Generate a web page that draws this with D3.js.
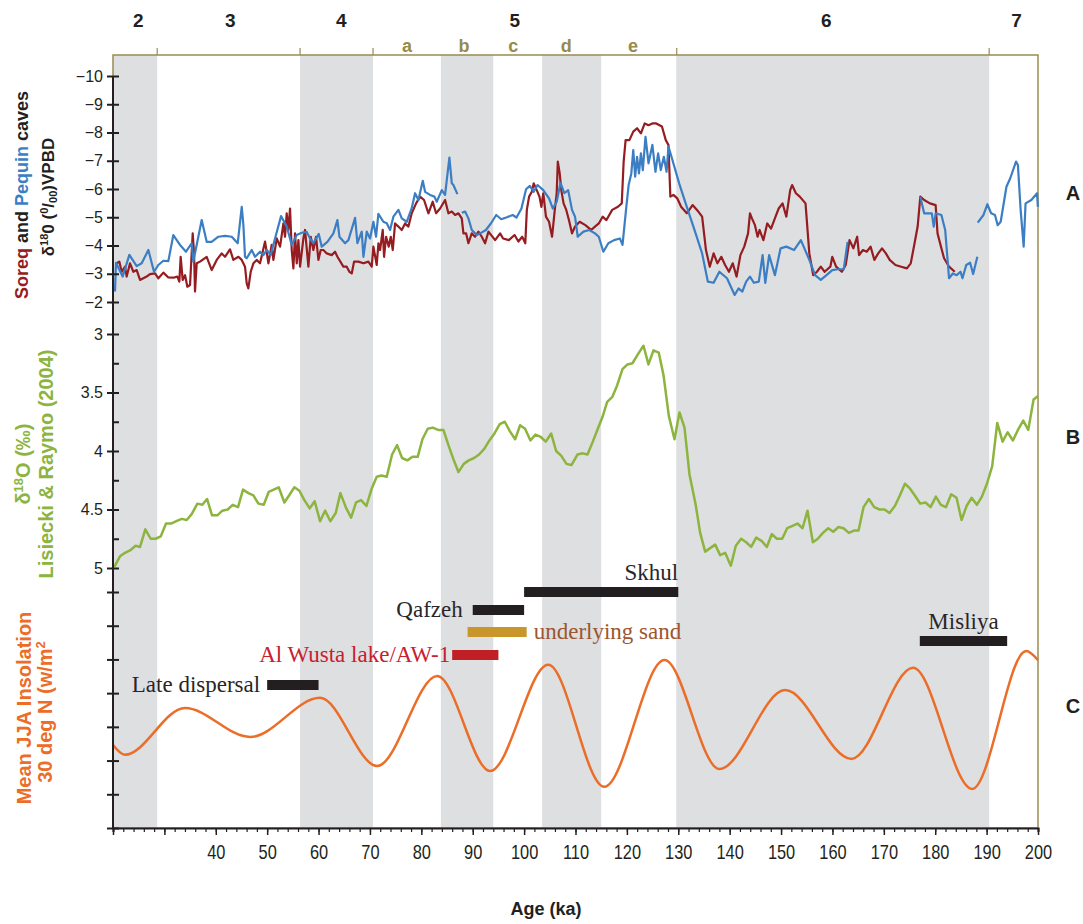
<!DOCTYPE html>
<html>
<head>
<meta charset="utf-8">
<script src="https://cdn.jsdelivr.net/npm/d3@7"></script>
<style>
  body { margin: 0; background: #fff; }
  svg { display: block; }
</style>
</head>
<body>
<div id="chart"></div>
<script>
// ---- data ----
var misNames = ["2", "3", "4", "5", "6", "7"];
var misCentres = [24.9, 42.8, 64.4, 98.2, 158.8, 195.8];
var subNames = ["a", "b", "c", "d", "e"];
var subCentres = [77.2, 88.3, 97.9, 108.2, 121.2];
var misBounds = [28.6, 56.4, 70.6, 129.7, 190.5];
var greyBands = [[20, 28.6], [56.4, 70.6], [83.8, 94], [103.5, 115], [129.6, 190.5]];

// Soreq cave d18O (age ka, permil)
var soreq = [[20.71,-3.37],[21.23,-3.43],[21.69,-3.07],[22.34,-3.25],[22.66,-2.9],[23.31,-3.37],[23.96,-3.07],[24.61,-3.13],[25.26,-2.78],[25.9,-2.84],[26.55,-2.9],[27.2,-2.99],[28.18,-3.01],[28.83,-2.84],[29.8,-3.04],[30.77,-2.87],[31.74,-2.86],[32.52,-2.9],[32.91,-2.72],[33.17,-3.6],[33.56,-2.78],[34.02,-2.95],[34.47,-2.54],[34.99,-2.6],[35.51,-4.43],[35.77,-3.72],[35.96,-2.37],[36.29,-3.37],[36.93,-3.43],[38.23,-3.6],[39.21,-3.13],[40.18,-3.49],[41.15,-3.72],[41.8,-3.6],[42.77,-3.86],[43.42,-3.49],[44.4,-3.6],[45.05,-3.49],[45.69,-3.25],[46.02,-2.66],[46.34,-2.48],[46.8,-3.07],[47.32,-3.37],[47.97,-3.49],[48.61,-3.37],[49.59,-4.14],[50.24,-3.37],[50.88,-4.02],[51.21,-3.49],[51.86,-4.25],[52.51,-3.96],[53.16,-4.78],[53.48,-4.31],[53.8,-5.14],[54.13,-4.55],[54.45,-5.31],[54.78,-3.84],[55.1,-3.19],[55.43,-4.43],[55.75,-3.37],[56.08,-4.19],[56.4,-3.25],[57.05,-4.25],[57.37,-4.55],[58.02,-3.25],[58.48,-4.31],[58.99,-3.84],[59.51,-4.31],[59.97,-3.49],[60.42,-3.84],[60.94,-3.84],[61.59,-3.72],[62.56,-3.66],[63.21,-3.78],[63.67,-3.6],[64.83,-3.25],[65.48,-3.25],[66.0,-3.07],[66.46,-3.01],[66.91,-3.43],[67.75,-3.43],[68.73,-3.37],[69.7,-3.43],[70.35,-3.25],[70.67,-3.96],[71.32,-3.31],[71.65,-4.08],[71.97,-3.84],[72.49,-4.55],[72.75,-3.6],[73.14,-4.31],[73.66,-3.96],[74.05,-4.31],[74.44,-3.84],[74.89,-4.78],[75.54,-4.67],[76.19,-4.55],[76.84,-4.78],[77.49,-4.67],[78.13,-5.14],[78.98,-5.49],[79.76,-5.73],[80.53,-5.61],[81.38,-5.14],[82.22,-5.55],[82.87,-5.14],[83.65,-5.31],[84.62,-5.61],[85.27,-5.14],[85.92,-5.2],[86.57,-5.08],[87.22,-5.14],[87.87,-4.96],[88.19,-4.43],[88.71,-4.43],[89.16,-4.08],[89.81,-4.43],[90.46,-4.31],[91.11,-4.49],[91.76,-4.31],[92.41,-4.08],[93.06,-4.49],[94.36,-4.19],[95.33,-4.43],[95.91,-4.25],[97.03,-4.19],[98.14,-4.37],[98.89,-4.14],[99.63,-4.31],[100.23,-4.08],[100.53,-5.26],[100.97,-5.73],[101.5,-5.9],[101.87,-6.2],[102.46,-5.96],[102.99,-5.73],[103.36,-5.37],[103.73,-5.85],[104.25,-5.02],[104.85,-4.84],[105.44,-4.31],[105.97,-5.26],[106.34,-5.85],[106.56,-6.97],[106.93,-6.55],[107.23,-5.96],[107.68,-5.49],[108.2,-5.26],[108.72,-4.9],[109.32,-4.43],[109.91,-4.67],[110.81,-4.84],[111.92,-4.72],[113.04,-4.55],[113.79,-4.67],[114.53,-4.78],[115.28,-5.02],[116.02,-4.9],[117.14,-5.26],[118.26,-5.37],[119.0,-5.49],[119.37,-6.97],[119.75,-7.73],[120.49,-7.73],[121.24,-8.03],[121.98,-8.15],[122.73,-7.97],[123.47,-8.32],[124.21,-8.26],[124.96,-8.32],[125.7,-8.32],[126.82,-8.21],[127.57,-7.73],[128.09,-7.56],[128.46,-5.73],[129.06,-5.79],[129.8,-5.67],[130.55,-5.37],[131.66,-5.14],[132.78,-5.43],[133.9,-5.2],[134.64,-5.02],[135.39,-3.84],[136.13,-3.25],[136.88,-3.72],[137.62,-3.37],[138.37,-3.6],[139.11,-3.31],[139.86,-3.07],[140.6,-3.37],[141.35,-2.9],[142.09,-3.66],[142.84,-3.96],[143.58,-4.43],[143.95,-5.14],[144.33,-4.96],[144.92,-4.72],[145.44,-4.31],[145.82,-4.55],[146.56,-4.19],[147.31,-4.78],[148.05,-4.6],[148.8,-4.96],[149.54,-5.31],[150.29,-5.49],[151.03,-5.02],[151.78,-5.96],[152.15,-6.14],[152.89,-5.85],[153.64,-5.73],[154.76,-5.49],[155.5,-3.72],[156.25,-2.95],[156.99,-3.07],[157.73,-3.25],[158.48,-3.07],[159.6,-3.25],[159.97,-3.6],[160.71,-3.25],[161.83,-3.07],[162.58,-3.31],[163.32,-4.19],[164.07,-3.9],[164.81,-4.31],[165.18,-3.66],[165.93,-3.84],[166.67,-3.78],[167.42,-3.96],[168.16,-3.49],[168.91,-3.72],[169.65,-3.9],[170.4,-3.72],[171.14,-3.49],[172.26,-3.31],[173.38,-3.25],[174.49,-3.19],[175.24,-3.37],[175.98,-4.08],[176.58,-4.67],[177.1,-5.73],[177.85,-5.61],[178.96,-5.49],[180.08,-5.43],[180.45,-4.43],[181.2,-3.9],[181.72,-3.55],[182.69,-3.25],[183.8,-3.07]];

// Pequin cave d18O (null = gap in record)
var pequin = [[20.39,-2.37],[20.58,-3.39],[21.88,-2.9],[23.18,-3.67],[24.61,-3.27],[25.58,-3.37],[26.88,-3.84],[27.98,-3.07],[28.82,-3.31],[29.79,-3.46],[30.77,-3.45],[31.74,-4.37],[33.04,-4.02],[34.21,-3.78],[35.31,-4.08],[35.63,-3.43],[37.26,-4.9],[38.23,-4.13],[39.2,-4.13],[40.5,-4.31],[41.8,-4.34],[43.1,-4.31],[44.27,-4.08],[45.05,-5.37],[45.37,-4.73],[45.69,-3.6],[46.02,-3.55],[46.99,-3.84],[47.64,-3.6],[48.61,-3.78],[49.26,-3.66],[49.91,-3.84],[50.69,-3.66],[51.53,-4.25],[52.7,-5.04],[53.81,-4.67],[54.78,-4.02],[55.75,-4.37],[56.73,-4.45],[57.7,-4.48],[58.35,-4.25],[58.99,-4.08],[60.04,-4.41],[60.62,-3.96],[61.72,-4.13],[62.89,-4.43],[63.67,-4.9],[64.06,-4.31],[65.16,-4.08],[65.81,-4.19],[67.11,-4.98],[67.56,-4.08],[68.4,-4.49],[68.73,-3.6],[69.38,-4.49],[70.02,-4.25],[70.67,-4.84],[71.19,-4.31],[71.64,-5.12],[72.61,-4.84],[73.27,-4.79],[73.92,-4.55],[74.56,-5.02],[75.54,-5.26],[76.19,-4.96],[77.16,-4.84],[78.13,-5.32],[78.78,-5.85],[79.43,-5.61],[80.28,-6.29],[80.73,-5.9],[81.7,-5.79],[82.55,-5.73],[83.0,-5.55],[83.98,-5.96],[84.62,-5.79],[85.46,-7.11],[85.93,-6.2],[86.24,-6.14],[87.02,-5.82],null,[87.87,-5.16],[88.52,-5.2],[89.16,-4.96],[89.82,-4.55],[90.79,-4.37],[91.44,-4.43],[92.56,-4.55],[93.53,-4.78],[94.57,-5.08],[95.54,-4.93],[96.65,-5.0],[97.77,-5.08],[98.52,-4.99],[99.48,-5.31],[100.38,-5.99],[101.12,-6.11],[101.87,-5.9],[102.61,-6.14],[103.73,-5.96],[104.85,-5.67],[105.59,-5.31],[106.34,-5.55],[107.08,-6.22],[107.83,-5.85],[108.57,-5.96],[109.32,-5.26],[109.91,-5.02],[110.43,-4.31],[111.55,-4.49],[112.67,-4.55],[113.79,-4.43],[114.53,-4.31],[115.42,-3.78],[116.39,-4.08],[117.51,-4.19],[118.63,-4.25],[119.15,-4.02],[119.89,-5.37],[120.34,-6.14],[120.86,-6.55],[121.24,-7.38],[121.61,-6.44],[121.98,-7.14],[122.35,-6.55],[122.73,-7.26],[123.1,-6.67],[123.62,-7.85],[124.21,-6.91],[124.96,-7.56],[125.56,-6.61],[126.08,-7.26],[126.6,-6.67],[127.19,-7.14],[127.72,-6.61],[128.09,-7.5],[128.68,-7.14],[130.17,-6.2],[131.66,-5.37],[133.15,-4.55],[134.64,-3.72],[135.76,-2.72],[136.88,-2.68],[137.99,-3.07],[139.48,-2.84],[140.97,-2.25],[141.72,-2.48],[142.46,-2.37],[143.21,-2.72],[143.95,-2.9],[144.7,-2.68],[145.67,-2.72],[146.41,-3.66],[146.93,-2.68],[147.68,-3.66],[148.8,-2.95],[149.91,-3.9],[151.03,-3.96],[152.52,-3.84],[153.86,-4.19],[155.5,-3.49],[156.62,-2.95],[157.73,-2.78],[158.85,-2.95],[159.97,-3.13],[161.09,-3.16],[162.2,-3.16],[162.95,-4.13],null,[177.1,-5.73],[177.85,-5.14],[179.34,-5.14],[179.71,-4.67],[180.08,-5.14],[181.2,-5.08],[181.94,-4.55],[182.69,-2.84],[183.43,-3.01],[184.18,-2.95],[184.92,-3.07],[185.3,-2.84],[186.04,-3.31],[186.79,-3.39],[187.38,-2.99],[188.2,-3.6],null,[188.27,-4.81],[189.39,-5.08],[190.14,-5.46],[190.88,-5.14],[191.63,-5.08],[192.15,-4.72],[192.74,-4.84],[193.86,-6.08],[194.6,-6.38],[195.72,-6.97],[196.09,-6.85],[196.62,-5.26],[197.21,-3.96],[197.58,-5.49],[198.7,-5.61],[199.82,-5.85],[199.97,-5.37]];

// LR04 benthic stack d18O
var lr04 = [[20.26,4.99],[21.36,4.9],[22.34,4.87],[23.31,4.85],[24.41,4.81],[25.26,4.82],[26.29,4.67],[27.33,4.75],[28.31,4.75],[29.28,4.73],[30.32,4.62],[31.29,4.62],[32.33,4.6],[33.37,4.58],[34.34,4.59],[35.31,4.54],[36.42,4.45],[37.39,4.46],[38.3,4.41],[39.27,4.55],[40.31,4.55],[41.28,4.51],[42.32,4.5],[43.29,4.46],[44.33,4.48],[45.3,4.33],[46.34,4.36],[47.32,4.38],[48.29,4.45],[49.33,4.46],[50.3,4.35],[51.27,4.33],[52.25,4.31],[53.35,4.44],[54.26,4.38],[55.3,4.31],[56.27,4.34],[57.24,4.42],[58.28,4.49],[59.25,4.43],[60.29,4.6],[61.27,4.51],[62.3,4.6],[63.34,4.53],[64.25,4.36],[65.29,4.48],[66.33,4.57],[67.3,4.44],[68.27,4.42],[69.31,4.47],[70.35,4.32],[71.32,4.22],[72.23,4.21],[73.27,4.22],[74.31,4.03],[75.28,3.95],[76.25,4.06],[77.29,4.08],[78.26,4.05],[79.3,4.05],[80.21,3.9],[81.25,3.81],[82.22,3.8],[83.26,3.82],[84.3,3.82],[85.27,3.95],[86.24,4.07],[87.22,4.18],[88.26,4.11],[89.23,4.08],[90.27,4.06],[91.24,4.03],[92.28,3.98],[93.25,3.91],[94.23,3.85],[95.26,3.77],[96.24,3.75],[97.21,3.83],[98.25,3.9],[99.22,3.78],[100.19,3.81],[101.23,3.91],[102.21,3.86],[103.24,3.88],[104.22,3.92],[105.26,3.85],[106.23,4.0],[107.2,4.04],[108.24,4.11],[109.21,4.12],[110.38,4.03],[111.42,4.02],[112.33,4.03],[113.37,3.92],[114.34,3.81],[115.25,3.71],[116.16,3.58],[117.13,3.54],[118.1,3.44],[119.14,3.3],[120.11,3.26],[121.09,3.25],[122.19,3.17],[123.23,3.1],[124.2,3.26],[125.17,3.14],[126.21,3.16],[127.12,3.35],[128.16,3.7],[129.26,3.9],[130.24,3.67],[131.21,3.8],[132.18,4.2],[133.35,4.45],[134.26,4.7],[135.23,4.86],[136.2,4.83],[137.18,4.8],[138.15,4.89],[139.12,4.87],[140.23,4.98],[141.2,4.81],[142.24,4.75],[143.21,4.78],[144.18,4.82],[145.16,4.74],[146.26,4.77],[147.23,4.82],[148.21,4.71],[149.18,4.75],[150.22,4.75],[151.19,4.66],[152.23,4.64],[153.2,4.62],[154.18,4.66],[155.15,4.51],[156.19,4.78],[157.16,4.75],[158.14,4.7],[159.17,4.66],[160.15,4.69],[161.18,4.65],[162.16,4.66],[163.2,4.7],[164.17,4.68],[165.08,4.68],[166.05,4.48],[167.09,4.41],[168.13,4.48],[169.17,4.5],[170.14,4.5],[171.11,4.53],[172.15,4.47],[173.12,4.38],[174.1,4.28],[175.07,4.32],[176.04,4.38],[177.08,4.45],[178.12,4.44],[179.09,4.48],[180.13,4.39],[181.1,4.46],[182.08,4.48],[183.11,4.37],[184.15,4.4],[185.12,4.59],[186.1,4.47],[187.07,4.4],[188.11,4.46],[189.08,4.39],[190.06,4.28],[191.09,4.13],[192.07,3.76],[193.11,3.92],[194.08,3.84],[195.12,3.91],[196.09,3.82],[197.13,3.74],[198.1,3.82],[199.14,3.56],[200,3.53]];

// mean JJA insolation 30N (turning points)
var insolation = [[20,424.6],[22.3,421.7],[34,435.6],[46.7,427],[60.3,438.6],[71.4,418.4],[83.1,445.1],[93.4,416.9],[104.7,448.4],[115.6,412.2],[127.3,449.8],[138,417.5],[150.8,440.9],[163.7,420.5],[175.7,447.5],[187.2,411.6],[197.7,452.5],[200,449.8]];

// dated sites (ka)
var siteNames = ["Skhul", "Qafzeh", "underlying sand", "Al Wusta lake/AW-1", "Late dispersal", "Misliya"];
var siteFrom = [100, 90, 89, 86, 50, 177];
var siteTo = [130, 100, 100.5, 95, 60, 194];

var xTickLabels = d3.range(40, 201, 10);

// ---- layout ----
var width = 1083, height = 924;
var plotL = 113, plotR = 1038, plotT = 55, plotB = 828;

var svg = d3.select('#chart').append('svg')
  .attr('width', width)
  .attr('height', height)
  .style('font-family', 'Liberation Sans, Arial, sans-serif');

var x = d3.scaleLinear().domain([20, 200]).range([plotL, plotR]);
var yA = d3.scaleLinear().domain([-10, -2]).range([76, 302]);
var yB = d3.scaleLinear().domain([3, 5]).range([334, 568]);
var yC = d3.scaleLinear().domain([400, 470]).range([828, 592]);

var olive = '#998c52';
var ink = '#231f20';

// grey stage bands
svg.selectAll('rect.band').data(greyBands).enter().append('rect')
  .attr('class', 'band')
  .attr('x', function (d) { return x(d[0]); })
  .attr('y', plotT)
  .attr('width', function (d) { return x(d[1]) - x(d[0]); })
  .attr('height', plotB - plotT)
  .attr('fill', '#dedfe1');

// frame
svg.append('rect')
  .attr('x', plotL).attr('y', plotT)
  .attr('width', plotR - plotL).attr('height', plotB - plotT)
  .attr('fill', 'none').attr('stroke', olive).attr('stroke-width', 1.5);

// top stage ticks and labels
svg.selectAll('line.mis').data(misBounds).enter().append('line')
  .attr('class', 'mis')
  .attr('x1', function (d) { return x(d); })
  .attr('x2', function (d) { return x(d); })
  .attr('y1', plotT - 7).attr('y2', plotT)
  .attr('stroke', olive).attr('stroke-width', 1.2);

svg.selectAll('text.mis').data(misNames).enter().append('text')
  .attr('class', 'mis')
  .attr('x', function (d, i) { return x(misCentres[i]); })
  .attr('y', 27)
  .attr('text-anchor', 'middle')
  .attr('font-size', 19).attr('font-weight', 'bold')
  .attr('fill', ink)
  .text(function (d) { return d; });

svg.selectAll('text.sub').data(subNames).enter().append('text')
  .attr('class', 'sub')
  .attr('x', function (d, i) { return x(subCentres[i]); })
  .attr('y', 52)
  .attr('text-anchor', 'middle')
  .attr('font-size', 18).attr('font-weight', 'bold')
  .attr('fill', '#978a4c')
  .text(function (d) { return d; });

// series
var lineA = d3.line()
  .defined(function (d) { return d !== null; })
  .x(function (d) { return x(d[0]); })
  .y(function (d) { return yA(d[1]); });

svg.append('path').datum(soreq)
  .attr('d', lineA)
  .attr('fill', 'none').attr('stroke', '#951c20').attr('stroke-width', 2.2)
  .attr('stroke-linejoin', 'round');

svg.append('path').datum(pequin)
  .attr('d', lineA)
  .attr('fill', 'none').attr('stroke', '#3b7ec4').attr('stroke-width', 2.2)
  .attr('stroke-linejoin', 'round');

svg.append('path').datum(lr04)
  .attr('d', d3.line()
    .x(function (d) { return x(d[0]); })
    .y(function (d) { return yB(d[1]); }))
  .attr('fill', 'none').attr('stroke', '#8cb43e').attr('stroke-width', 2.5)
  .attr('stroke-linejoin', 'round');

svg.append('path').datum(insolation)
  .attr('d', d3.line()
    .curve(d3.curveMonotoneX)
    .x(function (d) { return x(d[0]); })
    .y(function (d) { return yC(d[1]); }))
  .attr('fill', 'none').attr('stroke', '#eb6d28').attr('stroke-width', 2.5);

// site bars
var siteStyle = [
  { y: 592, fill: ink, txt: '#2a2627', side: 'above-right', gap: 0 },
  { y: 610, fill: ink, txt: '#2a2627', side: 'left', gap: 10 },
  { y: 632, fill: '#c9962c', txt: '#9d5530', side: 'right', gap: 7 },
  { y: 655, fill: '#c11f26', txt: '#c8202e', side: 'left', gap: 2 },
  { y: 685, fill: ink, txt: '#2a2627', side: 'left', gap: 7 },
  { y: 641, fill: ink, txt: '#2a2627', side: 'above', gap: 0 }
];

svg.selectAll('rect.site').data(siteNames).enter().append('rect')
  .attr('class', 'site')
  .attr('x', function (d, i) { return x(siteFrom[i]); })
  .attr('y', function (d, i) { return siteStyle[i].y - 5; })
  .attr('width', function (d, i) { return x(siteTo[i]) - x(siteFrom[i]); })
  .attr('height', 10)
  .attr('fill', function (d, i) { return siteStyle[i].fill; });

svg.selectAll('text.site').data(siteNames).enter().append('text')
  .attr('class', 'site')
  .attr('font-family', 'Liberation Serif, Times New Roman, serif')
  .attr('font-size', 23)
  .attr('fill', function (d, i) { return siteStyle[i].txt; })
  .each(function (d, i) {
    var s = siteStyle[i], t = d3.select(this);
    if (s.side === 'left') {
      t.attr('x', x(siteFrom[i]) - s.gap).attr('y', s.y + 7).attr('text-anchor', 'end');
    } else if (s.side === 'right') {
      t.attr('x', x(siteTo[i]) + s.gap).attr('y', s.y + 7).attr('text-anchor', 'start');
    } else if (s.side === 'above-right') {
      t.attr('x', x(siteTo[i])).attr('y', s.y - 12).attr('text-anchor', 'end');
    } else {
      t.attr('x', (x(siteFrom[i]) + x(siteTo[i])) / 2).attr('y', s.y - 12).attr('text-anchor', 'middle');
    }
  })
  .text(function (d) { return d; });

// ---- axes ----
function noDomain(g) { g.select('.domain').remove(); }

svg.append('line')
  .attr('x1', plotL).attr('x2', plotL).attr('y1', 76).attr('y2', plotB)
  .attr('stroke', ink).attr('stroke-width', 2);

var axA = svg.append('g').attr('transform', 'translate(' + (plotL + 6) + ',0)')
  .call(d3.axisLeft(yA).tickValues(d3.range(-10, -1, 1)).tickSize(12).tickPadding(4))
  .call(noDomain);

var axB = svg.append('g').attr('transform', 'translate(' + (plotL + 6) + ',0)')
  .call(d3.axisLeft(yB).tickValues([3, 3.5, 4, 4.5, 5]).tickSize(12).tickPadding(4)
    .tickFormat(d3.format('')))
  .call(noDomain);

svg.append('g').attr('transform', 'translate(' + plotL + ',0)')
  .call(d3.axisRight(yB).tickValues([3.25, 3.75, 4.25, 4.75]).tickSize(6).tickFormat(''))
  .call(noDomain);

svg.append('g').attr('transform', 'translate(' + (plotL + 6) + ',0)')
  .call(d3.axisLeft(yC).tickValues(d3.range(400, 471, 10)).tickSize(12).tickFormat(''))
  .call(noDomain);

[axA, axB].forEach(function (g) {
  g.selectAll('text').attr('font-size', 16).attr('fill', ink)
    .attr('font-family', 'Liberation Sans, Arial, sans-serif');
});

svg.selectAll('.tick line').attr('stroke', ink).attr('stroke-width', 2);

// x axis
svg.append('g').attr('transform', 'translate(0,' + plotB + ')')
  .call(d3.axisBottom(x).tickValues(d3.range(20, 201, 2)).tickSize(4).tickFormat(''))
  .call(function (g) {
    g.select('.domain').attr('stroke', ink).attr('stroke-width', 2);
    g.selectAll('.tick line').attr('stroke', ink).attr('stroke-width', 1.2);
  });

var axX = svg.append('g').attr('transform', 'translate(0,' + plotB + ')')
  .call(d3.axisBottom(x).tickValues(d3.range(20, 201, 10)).tickSize(7).tickPadding(10)
    .tickFormat(function (d) { return xTickLabels.indexOf(d) >= 0 ? d : ''; }))
  .call(noDomain);
axX.selectAll('.tick line').attr('stroke', ink).attr('stroke-width', 1.5);
axX.selectAll('text')
  .attr('font-size', 20).attr('fill', ink)
  .attr('transform', 'scale(0.82,1)');

svg.append('text')
  .attr('x', 546).attr('y', 915)
  .attr('text-anchor', 'middle')
  .attr('font-size', 18).attr('font-weight', 'bold').attr('fill', ink)
  .text('Age (ka)');

// panel letters
[['A', 200], ['B', 444], ['C', 713]].forEach(function (p) {
  svg.append('text')
    .attr('x', 1073).attr('y', p[1])
    .attr('text-anchor', 'middle')
    .attr('font-size', 20).attr('font-weight', 'bold').attr('fill', ink)
    .text(p[0]);
});

// ---- rotated axis titles ----
function vtitle(cx, cy, colour, size, parts) {
  var t = svg.append('text')
    .attr('transform', 'translate(' + cx + ',' + cy + ') rotate(-90)')
    .attr('text-anchor', 'middle')
    .attr('font-size', size).attr('font-weight', 'bold')
    .attr('fill', colour);
  parts.forEach(function (p) {
    var s = t.append('tspan').text(p.t);
    if (p.c) s.attr('fill', p.c);
    if (p.dy) s.attr('dy', p.dy);
    if (p.fs) s.attr('font-size', p.fs);
  });
  return t;
}

vtitle(28, 195, ink, 18, [
  { t: 'Soreq', c: '#951c20' }, { t: ' and ' }, { t: 'Pequin', c: '#3b7ec4' }, { t: ' caves' }
]);
vtitle(54, 197, ink, 17, [
  { t: 'δ' }, { t: '18', dy: -6, fs: 11 }, { t: '0 (', dy: 6 }, { t: '0', dy: -6, fs: 11 },
  { t: '/', dy: 6 }, { t: '00', dy: 3, fs: 11 }, { t: ')VPBD', dy: -3 }
]);

vtitle(30, 464, '#8cb43e', 20, [
  { t: 'δ' }, { t: '18', dy: -7, fs: 13 }, { t: 'O (‰)', dy: 7 }
]);
vtitle(53, 464, '#8cb43e', 20, [{ t: 'Lisiecki & Raymo (2004)' }]);

vtitle(31, 708, '#eb6d28', 20, [{ t: 'Mean JJA Insolation' }]);
vtitle(52, 712, '#eb6d28', 20, [{ t: '30 deg N (w/m' }, { t: '2', dy: -7, fs: 13 }]);
</script>
</body>
</html>
